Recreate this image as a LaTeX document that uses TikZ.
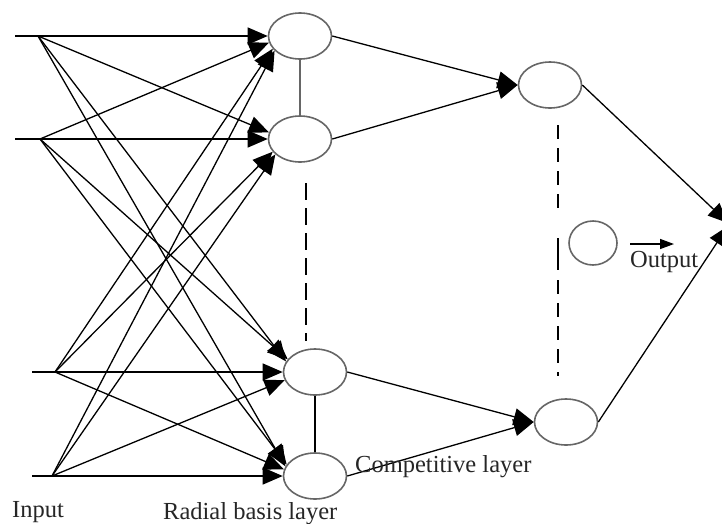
\documentclass[tikz,border=0pt]{standalone}
\usepackage{fontspec}
\setmainfont{Liberation Serif}
\usetikzlibrary{arrows.meta,shapes.geometric}
\begin{document}
\begin{tikzpicture}[x=1pt,y=-1pt,
  neuron/.style={draw=black!60,line width=1.6pt,ellipse,minimum width=63pt,minimum height=46pt,inner sep=0pt,fill=white},
  conn/.style={line width=1.3pt,-{Triangle[length=20pt,width=17pt]}},
  plain/.style={line width=1.3pt},
  lbl/.style={font=\fontsize{24.5}{26}\selectfont,anchor=base west,inner sep=0pt,text=black!85}]
\useasboundingbox (0,0) rectangle (722,523);

% nodes
\node[neuron] (R1) at (300,36) {};
\node[neuron] (R2) at (300,139) {};
\node[neuron] (R3) at (315,372) {};
\node[neuron] (R4) at (315,476) {};
\node[neuron] (C1) at (550,85) {};
\node[neuron] (C2) at (566,422) {};
\node[neuron,minimum width=48pt,minimum height=44pt] (S) at (593,243) {};

% input lines
\coordinate (s1) at (15,36);  \coordinate (b1) at (38,36);
\coordinate (s2) at (15,139); \coordinate (b2) at (40,139);
\coordinate (s3) at (32,372); \coordinate (b3) at (55,372);
\coordinate (s4) at (32,476); \coordinate (b4) at (52,476);

\draw[conn] (s1) -- (R1.west);
\draw[conn] (s2) -- (R2.west);
\draw[conn] (s3) -- (R3.west);
\draw[conn] (s4) -- (R4.west);

\draw[conn] (b1) -- (R2.168);
\draw[conn] (b1) -- (R3.160);
\draw[conn] (b1) -- (R4.162);

\draw[conn] (b2) -- (R1.192);
\draw[conn] (b2) -- (R3.155);
\draw[conn] (b2) -- (R4.158);

\draw[conn] (b3) -- (R1.205);
\draw[conn] (b3) -- (R2.205);
\draw[conn] (b3) -- (R4.168);

\draw[conn] (b4) -- (R1.210);
\draw[conn] (b4) -- (R2.212);
\draw[conn] (b4) -- (R3.195);

% layer links
\draw[line width=1.4pt,black!60] (R1.south) -- (R2.north);
\draw[line width=1.5pt] (R3.south) -- (R4.north);
\coordinate (d1) at (306,183); \coordinate (d2) at (306,341);
\draw[line width=1.7pt,dash pattern=on 17pt off 8pt] (d1) -- (d2);

% RBF to competitive
\draw[conn] (R1.east) -- (C1.west);
\draw[conn] (R2.east) -- (C1.west);
\draw[conn] (R3.east) -- (C2.west);
\draw[conn] (R4.east) -- (C2.west);

% competitive dashed column
\coordinate (e1) at (558,125); \coordinate (e2) at (558,212);
\coordinate (e3) at (558,238); \coordinate (e4) at (558,270);
\coordinate (e5) at (558,280); \coordinate (e6) at (558,376);
\draw[line width=1.7pt,dash pattern=on 14pt off 9pt] (e1) -- (e2);
\draw[line width=2pt] (e3) -- (e4);
\draw[line width=1.7pt,dash pattern=on 14pt off 9pt] (e5) -- (e6);

% outputs (cut by the page edge)
\coordinate (o1) at (728,223);
\coordinate (o2) at (728,226);
\draw[conn] (C1.east) -- (o1);
\draw[conn] (C2.east) -- (o2);

% small output arrow
\coordinate (a1) at (630,244); \coordinate (a2) at (674,244);
\draw[line width=1.4pt,-{Triangle[length=14pt,width=10pt]}] (a1) -- (a2);

% labels
\node[lbl] (tin) at (12,517) {Input};
\node[lbl] (trb) at (163,519) {Radial basis layer};
\node[lbl] (tcl) at (355,472) {Competitive layer};
\node[lbl] (tout) at (630,267) {Output};
\end{tikzpicture}
\end{document}
